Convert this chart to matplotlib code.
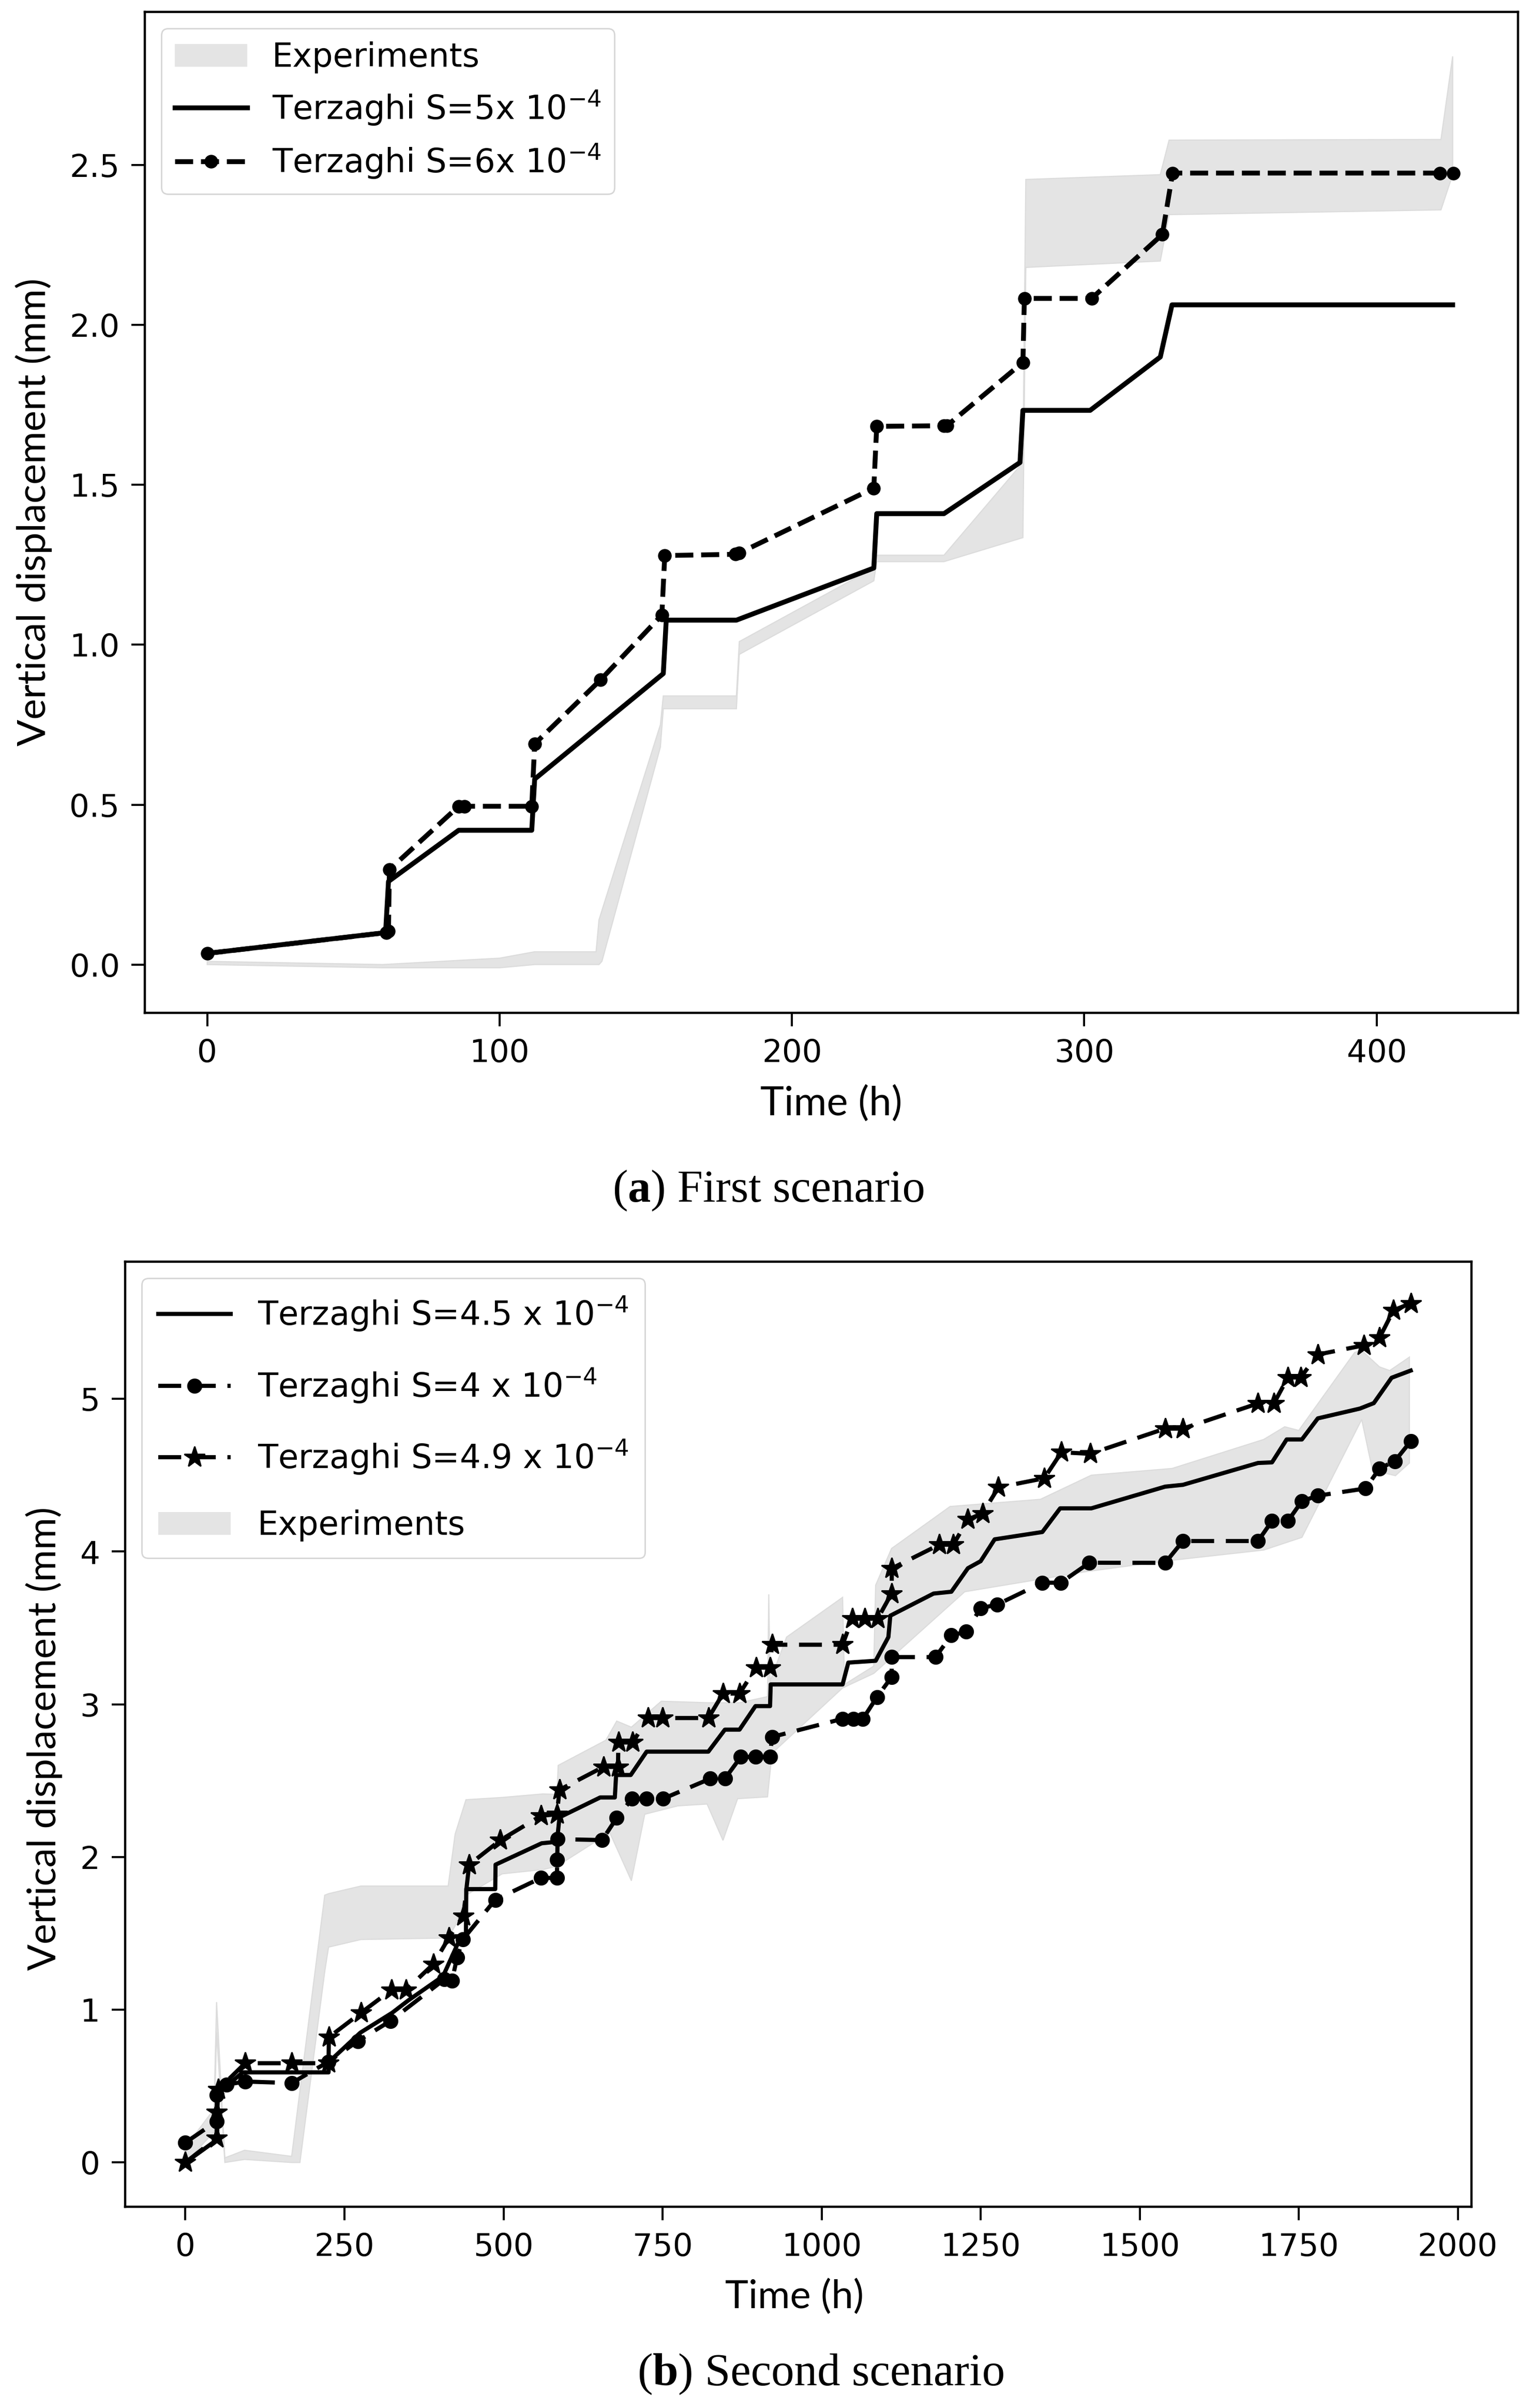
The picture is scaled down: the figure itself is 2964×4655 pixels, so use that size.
import matplotlib
matplotlib.use('Agg')
import matplotlib.pyplot as plt
from matplotlib.patches import Patch
from matplotlib.lines import Line2D

# ---------------- Data: (a) first scenario ----------------
a_time_s5 = [0, 61, 62, 86, 111, 112, 156, 157, 181, 228, 229, 252, 278, 279, 302, 326, 330, 426]
a_disp_s5 = [0.035, 0.10, 0.26, 0.42, 0.42, 0.58, 0.91, 1.077, 1.077, 1.24, 1.41, 1.41, 1.57,
             1.733, 1.733, 1.90, 2.063, 2.063]

a_time_s6 = [0, 61.3, 62.0, 62.3, 86, 88, 111, 112, 134.5, 155.5, 156.5, 180.7, 182, 228, 229,
             252, 253, 279, 279.5, 302.5, 326.7, 330.2, 421.6, 426.2]
a_disp_s6 = [0.035, 0.10, 0.105, 0.297, 0.495, 0.495, 0.495, 0.69, 0.89, 1.093, 1.279, 1.283,
             1.287, 1.49, 1.683, 1.685, 1.685, 1.883, 2.083, 2.083, 2.283, 2.475, 2.475, 2.475]

a_exp_time_hi = [0, 60, 100, 112, 133, 134, 155, 156, 181, 182, 228, 229, 252, 279, 280, 326, 329, 422, 426]
a_exp_hi = [0.01, 0.0, 0.02, 0.04, 0.04, 0.14, 0.75, 0.84, 0.84, 1.01, 1.24, 1.28, 1.28, 1.57,
            2.455, 2.47, 2.578, 2.58, 2.84]
a_exp_time_lo = [0, 60, 100, 112, 134, 135, 155, 156, 181, 182, 228, 229, 252, 279, 280, 326, 329, 422, 426]
a_exp_lo = [0.0, -0.01, -0.01, 0.0, 0.0, 0.01, 0.68, 0.80, 0.80, 0.97, 1.20, 1.26, 1.26, 1.335,
            2.18, 2.20, 2.345, 2.36, 2.47]

# ---------------- Data: (b) second scenario ----------------
b_time_s45 = [0, 50, 50.5, 90, 225, 226, 275, 325, 350, 405, 430, 441, 441.5, 487, 487.5, 560,
              584, 588, 652, 675, 677, 700, 725, 822, 848, 871, 896, 919, 920, 1033, 1042, 1085,
              1105, 1108, 1176, 1204, 1230, 1250, 1272, 1347, 1375, 1424, 1540, 1568, 1686, 1708,
              1731, 1755, 1780, 1846, 1868, 1896, 1926]
b_disp_s45 = [0.0, 0.15, 0.45, 0.59, 0.59, 0.66, 0.85, 0.98, 1.06, 1.22, 1.45, 1.50, 1.79, 1.79,
              1.95, 2.09, 2.10, 2.26, 2.39, 2.39, 2.537, 2.537, 2.69, 2.69, 2.834, 2.834, 2.988,
              2.988, 3.13, 3.13, 3.273, 3.285, 3.44, 3.58, 3.725, 3.737, 3.891, 3.937, 4.08, 4.128,
              4.283, 4.283, 4.425, 4.437, 4.58, 4.584, 4.734, 4.734, 4.872, 4.936, 4.972, 5.138, 5.185]

b_time_s4 = [0, 49, 49.5, 65, 94, 167, 225, 271, 322, 407, 419, 427, 436, 487, 559, 584, 584.5,
             585, 655, 678, 702, 725, 751, 825, 848, 873, 896, 919, 922, 1033, 1050, 1065, 1087,
             1110, 1110.5, 1179, 1204, 1227, 1250, 1276, 1347, 1376, 1421, 1540, 1568, 1686, 1708,
             1733, 1755, 1780, 1855, 1877, 1901, 1926]
b_disp_s4 = [0.13, 0.27, 0.44, 0.51, 0.53, 0.52, 0.66, 0.795, 0.926, 1.199, 1.19, 1.342, 1.46,
             1.72, 1.863, 1.863, 1.984, 2.117, 2.111, 2.256, 2.382, 2.382, 2.382, 2.513, 2.513,
             2.655, 2.655, 2.655, 2.786, 2.905, 2.905, 2.905, 3.047, 3.178, 3.309, 3.309, 3.451,
             3.475, 3.629, 3.653, 3.796, 3.796, 3.927, 3.926, 4.069, 4.069, 4.2, 4.2, 4.33, 4.366,
             4.413, 4.544, 4.592, 4.722]

b_time_s49 = [0, 49, 49.5, 52, 94, 167, 225, 225.5, 276, 324, 347, 390, 414, 437, 446, 495, 559,
              584, 588, 657, 680, 680.5, 703, 727, 750, 822, 845, 871, 897, 919, 922, 1033, 1048,
              1068, 1088, 1110, 1110.5, 1185, 1207, 1230, 1253, 1278, 1350, 1377, 1422, 1540, 1568,
              1686, 1711, 1733, 1753, 1780, 1852, 1877, 1899, 1926]
b_disp_s49 = [0.0, 0.16, 0.33, 0.48, 0.65, 0.65, 0.65, 0.82, 0.98, 1.13, 1.13, 1.30, 1.47, 1.615,
              1.95, 2.11, 2.27, 2.28, 2.44, 2.59, 2.59, 2.75, 2.75, 2.91, 2.91, 2.91, 3.07, 3.07,
              3.24, 3.24, 3.39, 3.39, 3.56, 3.56, 3.56, 3.725, 3.89, 4.045, 4.045, 4.21, 4.25, 4.42,
              4.48, 4.65, 4.64, 4.805, 4.805, 4.97, 4.97, 5.14, 5.14, 5.29, 5.35, 5.40, 5.58, 5.625]

b_exp_time_hi = [0, 45, 49, 62, 93, 167, 180, 219, 225, 276, 413, 424, 441, 498, 562, 584, 586,
                 661, 678, 701, 748, 822, 871, 915, 917, 919, 945, 1033, 1036, 1082, 1085, 1110,
                 1202, 1344, 1424, 1551, 1695, 1728, 1750, 1838, 1849, 1877, 1893, 1924]
b_exp_hi = [0.10, 0.35, 1.05, 0.03, 0.08, 0.04, 0.47, 1.75, 1.76, 1.81, 1.81, 2.15, 2.375, 2.39,
            2.413, 2.41, 2.60, 2.765, 2.89, 2.85, 3.02, 3.01, 3.01, 3.05, 3.72, 3.15, 3.44, 3.70,
            3.13, 3.25, 3.78, 4.02, 4.295, 4.342, 4.50, 4.544, 4.734, 4.817, 4.793, 5.304, 5.316,
            5.209, 5.185, 5.273]
b_exp_time_lo = [0, 45, 49, 62, 93, 167, 180, 219, 225, 276, 413, 424, 441, 498, 562, 584, 667,
                 701, 722, 774, 820, 845, 868, 915, 922, 1033, 1082, 1225, 1413, 1540, 1695, 1755,
                 1849, 1866, 1902, 1924]
b_exp_lo = [0.0, 0.2, 0.85, 0.0, 0.02, 0.0, 0.0, 1.25, 1.41, 1.46, 1.47, 1.55, 1.75, 1.89, 1.918,
            1.94, 2.16, 1.845, 2.28, 2.335, 2.347, 2.109, 2.382, 2.394, 2.679, 3.107, 3.202, 3.737,
            3.867, 3.938, 4.01, 4.093, 4.865, 4.532, 4.497, 4.58]

a_xticks = [0, 100, 200, 300, 400]
a_yticks = [0.0, 0.5, 1.0, 1.5, 2.0, 2.5]
b_xticks = [0, 250, 500, 750, 1000, 1250, 1500, 1750, 2000]
b_yticks = [0, 1, 2, 3, 4, 5]

# ---------------- Figure ----------------
W, H = 2964, 4655
DPI = 200
fig = plt.figure(figsize=(W / DPI, H / DPI), dpi=DPI)
fig.patch.set_facecolor('white')


def box(l, t, r, b):
    return [l / W, 1 - b / H, (r - l) / W, (b - t) / H]


ax1 = fig.add_axes(box(280, 23, 2935, 1958))
ax2 = fig.add_axes(box(242, 2439, 2845, 4266))

BAND = '#e4e4e4'


def band(ax, th, hi, tl, lo):
    xs = list(th) + list(tl)[::-1]
    ys = list(hi) + list(lo)[::-1]
    return ax.fill(xs, ys, color=BAND, lw=0.8, edgecolor='#dcdcdc', zorder=1)[0]


# ---- panel (a)
p_exp_a = band(ax1, a_exp_time_hi, a_exp_hi, a_exp_time_lo, a_exp_lo)
l5, = ax1.plot(a_time_s5, a_disp_s5, color='black', lw=3.4, zorder=3)
l6, = ax1.plot(a_time_s6, a_disp_s6, color='black', lw=3.4, ls='--', marker='o', ms=8.5, zorder=4)
ax1.set_xlim(-21.35, 448.35)
ax1.set_ylim(-0.151, 2.979)
ax1.set_xticks(a_xticks)
ax1.set_yticks(a_yticks)
ax1.set_yticklabels(['%.1f' % v for v in a_yticks])
leg1 = ax1.legend([Patch(facecolor=BAND, edgecolor='none'), l5, l6],
                  ['Experiments', r'Terzaghi S=5x $10^{-4}$', r'Terzaghi S=6x $10^{-4}$'],
                  loc='upper left', fontsize=23, handlelength=2.2, handletextpad=0.75,
                  labelspacing=0.45, borderpad=0.4)

# ---- panel (b)
p_exp_b = band(ax2, b_exp_time_hi, b_exp_hi, b_exp_time_lo, b_exp_lo)
m45, = ax2.plot(b_time_s45, b_disp_s45, color='black', lw=2.9, zorder=3)
m4, = ax2.plot(b_time_s4, b_disp_s4, color='black', lw=2.9, ls='--', dashes=(5.5, 2.8),
               marker='o', ms=9.5, zorder=4)
m49, = ax2.plot(b_time_s49, b_disp_s49, color='black', lw=2.9, ls='--', dashes=(5.5, 2.8),
                marker='*', ms=15, zorder=5)
ax2.set_xlim(-94.7, 2021.5)
ax2.set_ylim(-0.29, 5.898)
ax2.set_xticks(b_xticks)
ax2.set_yticks(b_yticks)
leg2 = ax2.legend([m45, m4, m49, Patch(facecolor=BAND, edgecolor='none')],
                  [r'Terzaghi S=4.5 x $10^{-4}$', r'Terzaghi S=4 x $10^{-4}$',
                   r'Terzaghi S=4.9 x $10^{-4}$', 'Experiments'],
                  loc='upper left', fontsize=23, handlelength=2.2, handletextpad=0.8,
                  labelspacing=1.0, borderpad=0.5)

for ax in (ax1, ax2):
    ax.tick_params(axis='both', direction='out', length=9.5, width=1.4, pad=8,
                   labelsize=22, colors='black')
    for s in ax.spines.values():
        s.set_linewidth(1.6)
        s.set_color('black')
    ax.set_facecolor('white')

renderer = fig.canvas.get_renderer()


def fit(t, target, dim):
    bb = t.get_window_extent(renderer)
    cur = bb.width if dim == 'w' else bb.height
    t.set_fontsize(t.get_fontsize() * target / cur)


LABEL_FONT = ['Lato', 'DejaVu Sans']
yl1 = fig.text(65 / W, 1 - 990 / H, 'Vertical displacement (mm)', rotation=90,
               ha='center', va='center', family=LABEL_FONT, fontsize=25)
fit(yl1, 905, 'h')
yl2 = fig.text(85 / W, 1 - 3361 / H, 'Vertical displacement (mm)', rotation=90,
               ha='center', va='center', family=LABEL_FONT, fontsize=25)
fit(yl2, 896, 'h')
xl1 = fig.text(1607 / W, 1 - 2134 / H, 'Time (h)', ha='center', va='center',
               family=LABEL_FONT, fontsize=25)
fit(xl1, 274, 'w')
xl2 = fig.text(1536 / W, 1 - 4440 / H, 'Time (h)', ha='center', va='center',
               family=LABEL_FONT, fontsize=25)
fit(xl2, 268, 'w')


def caption(xc, base_y, bold, rest, target_w):
    fam = ['Liberation Serif', 'DejaVu Serif']
    fs = 30.0
    for _ in range(2):
        parts = [('(', 'normal'), (bold, 'bold'), (') ' + rest, 'normal')]
        texts = [fig.text(0, 0, s, fontsize=fs, family=fam, weight=w, ha='left', va='baseline')
                 for s, w in parts]
        widths = [t.get_window_extent(renderer).width for t in texts]
        total = sum(widths)
        if _ == 0:
            for t in texts:
                t.remove()
            fs = fs * target_w / total
            continue
        x = xc - total / 2
        for t, w in zip(texts, widths):
            t.set_position((x / W, 1 - base_y / H))
            x += w


caption(1486, 2323, 'a', 'First scenario', 605)
caption(1588, 4611, 'b', 'Second scenario', 711)

fig.savefig('out.png', dpi=DPI, facecolor='white')
